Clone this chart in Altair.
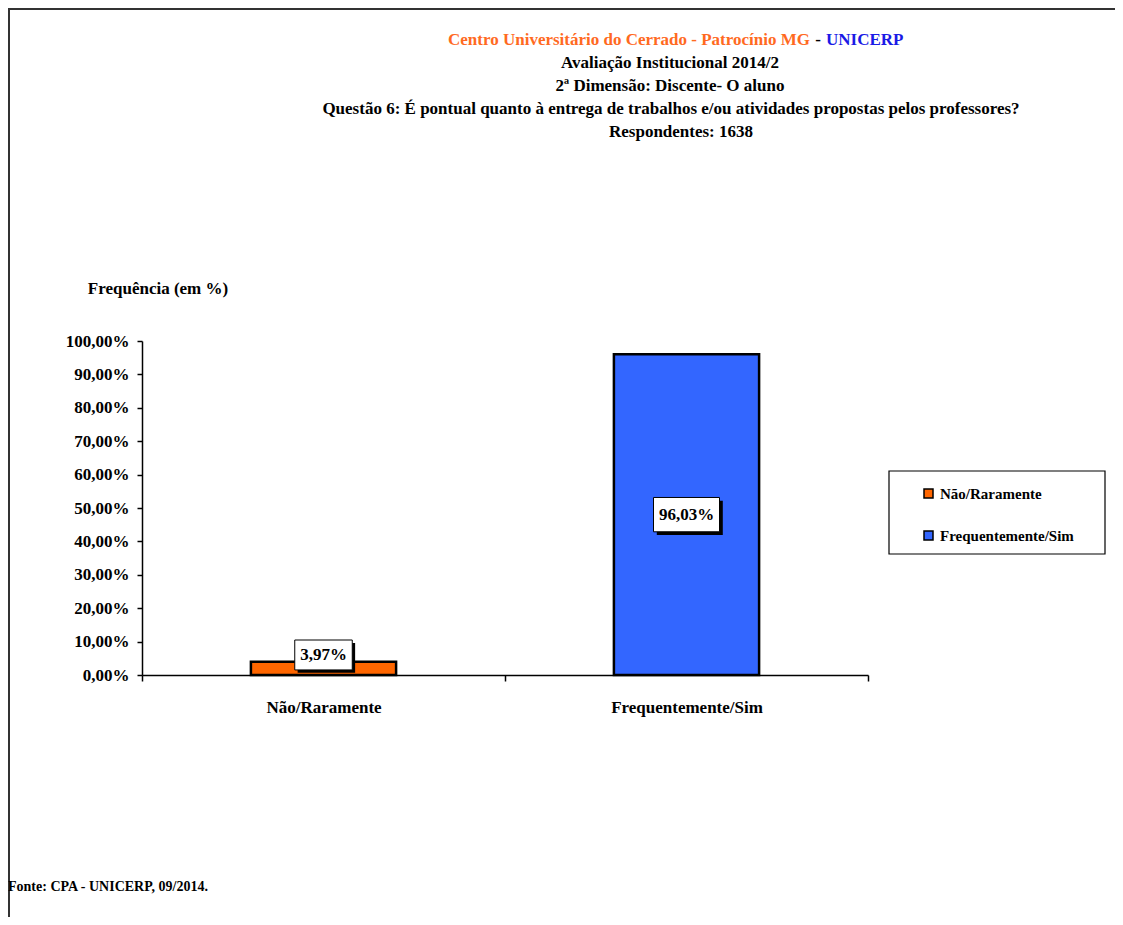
import altair as alt
import pandas as pd

categories = ["Não/Raramente", "Frequentemente/Sim"]
values = [3.97, 96.03]
labels = ["3,97%", "96,03%"]
colors = ["#FF6600", "#3366FF"]
y_ticks = [0, 10, 20, 30, 40, 50, 60, 70, 80, 90, 100]

title_org = "Centro Universitário do Cerrado - Patrocínio MG"
title_sep = "-"
title_inst = "UNICERP"
title_lines = ["Avaliação Institucional 2014/2",
               "2ª Dimensão: Discente- O aluno",
               "Questão 6: É pontual quanto à entrega de trabalhos e/ou atividades propostas pelos professores?",
               "Respondentes:  1638"]
y_title = "Frequência (em %)"
source = "Fonte: CPA - UNICERP, 09/2014."

FONT = "Liberation Serif"
W, H = 726, 334
OX, OY = 142, 341  # page position of plot origin
TOTAL_W, TOTAL_H = 1107, 909

df = pd.DataFrame({"cat": categories, "value": values, "label": labels})

xaxis = alt.Axis(labelAngle=0, labelFont=FONT, labelFontWeight="bold",
                 labelFontSize=17, labelColor="black", labelPadding=18,
                 domainColor="black", domainWidth=1.5, tickColor="black",
                 tickSize=6, tickWidth=1.5, tickBand="extent")
yaxis = alt.Axis(values=y_ticks, grid=False, labelFont=FONT, labelOverlap=False,
                 labelFontWeight="bold", labelFontSize=17, labelColor="black",
                 labelExpr="replace(format(datum.value, '.2f'), '.', ',') + '%'",
                 labelPadding=8, domainColor="black", domainWidth=1.5,
                 tickColor="black", tickSize=5, tickWidth=1.5)
xscale = alt.Scale(paddingInner=0, paddingOuter=0)
yscale = alt.Scale(domain=[0, 100], nice=False)

xenc = alt.X("cat:N", sort=categories, title=None, scale=xscale, axis=xaxis)
yenc = alt.Y("value:Q", title=None, scale=yscale, axis=yaxis)
yl = alt.Y("ly:Q", title=None, scale=yscale, axis=yaxis)

base = alt.Chart(df)

bars = base.mark_bar(stroke="black", strokeWidth=2.5,
                     width=alt.RelativeBandSize(0.4)).encode(
    x=xenc, y=yenc,
    fill=alt.Fill("cat:N", sort=categories,
                  scale=alt.Scale(domain=categories, range=colors),
                  legend=alt.Legend(title=None, orient="none", legendX=779, legendY=145,
                                    symbolType="square", symbolSize=81,
                                    symbolStrokeColor="black", symbolStrokeWidth=1.5,
                                    labelFont=FONT, labelFontWeight="bold",
                                    labelFontSize=15, labelColor="black",
                                    rowPadding=26, labelOffset=4, padding=0))
)

lab = base.transform_calculate(
    ly="max(datum.value / 2, 6)",
    sz="pow(8.5 * length(datum.label) + 15, 2)"
)
box_shape = "M-1,-0.52L1,-0.52L1,0.52L-1,0.52Z"
shadow_shape = "M-0.9,-0.42L1.1,-0.42L1.1,0.62L-0.9,0.62Z"
shadow = lab.mark_point(shape=shadow_shape, filled=True, color="black", opacity=1).encode(
    x=xenc, y=yl, size=alt.Size("sz:Q", scale=None)
)
box = lab.mark_point(shape=box_shape, filled=True, fill="white", stroke="black",
                     strokeWidth=1, opacity=1).encode(
    x=xenc, y=yl, size=alt.Size("sz:Q", scale=None)
)
txt = lab.mark_text(font=FONT, fontWeight="bold", fontSize=17, color="black",
                    baseline="middle").encode(
    x=xenc, y=yl, text="label:N"
)

one = alt.Data(values=[{}])

def text_at(t, px, py, size=17, color="black", align="center"):
    return alt.Chart(one).mark_text(text=t, font=FONT, fontWeight="bold",
                                    fontSize=size, color=color, align=align,
                                    baseline="middle").encode(
        x=alt.value(px - OX), y=alt.value(py - OY))

texts = [
    text_at(title_org, 810, 40, color="#FF6A1F", align="right"),
    text_at(title_sep, 818, 40),
    text_at(title_inst, 826, 40, color="#1A1AE6", align="left"),
    text_at(title_lines[0], 670, 63),
    text_at(title_lines[1], 670, 86),
    text_at(title_lines[2], 671, 109),
    text_at(title_lines[3], 681, 132),
    text_at(y_title, 158, 289),
    text_at(source, 8, 887, size=14, align="left"),
]

legend_box = alt.Chart(one).mark_rect(fill="white", stroke="black", strokeWidth=1.2).encode(
    x=alt.value(889 - OX), x2=alt.value(1105 - OX),
    y=alt.value(471 - OY), y2=alt.value(554 - OY))

frame_top = alt.Chart(one).mark_rule(color="#333333", strokeWidth=2).encode(
    x=alt.value(8 - OX), x2=alt.value(8 + TOTAL_W - OX), y=alt.value(9 - OY))
frame_left = alt.Chart(one).mark_rule(color="#333333", strokeWidth=2).encode(
    x=alt.value(9 - OX), y=alt.value(8 - OY), y2=alt.value(8 + TOTAL_H - OY))

chart = alt.layer(
    legend_box, frame_top, frame_left, bars, shadow, box, txt, *texts
).properties(
    width=W, height=H,
    background="white",
    padding={"left": OX - 8, "top": OY - 8, "right": TOTAL_W - (OX - 8) - W,
             "bottom": TOTAL_H - (OY - 8) - H},
    autosize=alt.AutoSizeParams(type="none")
).configure_view(strokeWidth=0, stroke="transparent")

chart.save("out.html", embed_options={"renderer": "svg", "actions": False})
